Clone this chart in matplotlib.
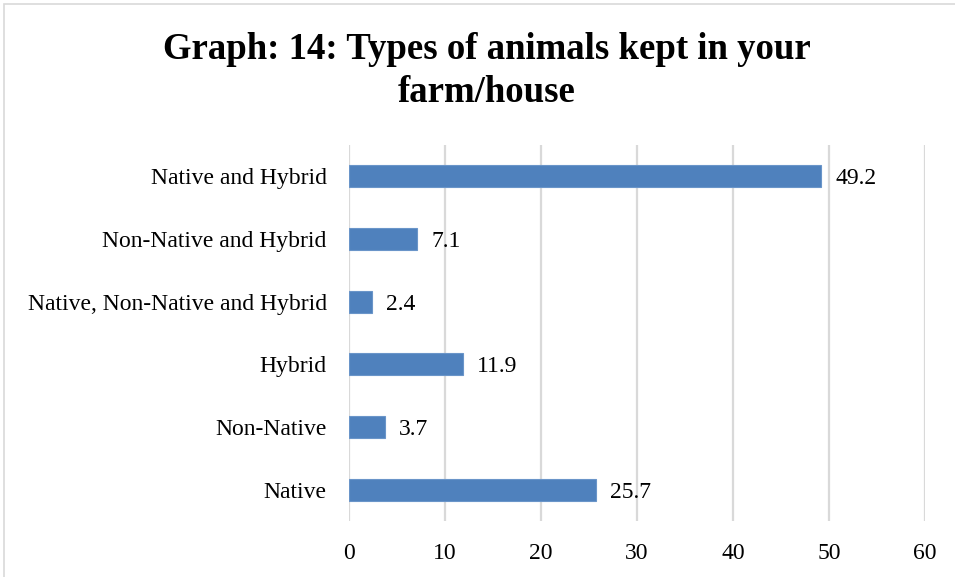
import matplotlib
matplotlib.use("Agg")
import matplotlib.pyplot as plt
from matplotlib.patches import Rectangle

categories = ["Native", "Non-Native", "Hybrid", "Native, Non-Native and Hybrid",
              "Non-Native and Hybrid", "Native and Hybrid"]
values = [25.7, 3.7, 11.9, 2.4, 7.1, 49.2]
x_ticks = [0, 10, 20, 30, 40, 50, 60]

plt.rcParams["font.family"] = ["Liberation Serif", "DejaVu Serif"]

W, H = 955, 577
fig = plt.figure(figsize=(W / 100, H / 100), dpi=100)
ax = fig.add_axes([349 / W, 1 - 521 / H, (925 - 349) / W, (521 - 145) / H])

# outer chart frame (light grey, runs off the right/bottom edge)
fig.patches.append(Rectangle((4 / W, -0.05), 1.1, 1 - 4 / H + 0.05,
                             transform=fig.transFigure, fill=False,
                             edgecolor="#D9D9D9", linewidth=1.2))

bars = ax.barh(range(len(categories)), values, height=0.35,
               color="#4F81BD", edgecolor="#6A95C9", linewidth=0.8, zorder=3)

for bar, v in zip(bars, values):
    ax.text(bar.get_width() + 1.45, bar.get_y() + bar.get_height() / 2,
            f"{v:.1f}", ha="left", va="center_baseline", fontsize=17, color="#000000")

ax.set_xlim(0, 60)
ax.set_ylim(-0.5, 5.5)
ax.set_xticks(x_ticks)
ax.set_xticklabels([str(t) for t in x_ticks], fontsize=17)
ax.set_yticks(range(len(categories)))
ax.set_yticklabels(categories, fontsize=17)
ax.tick_params(axis="x", length=0, pad=16)
ax.tick_params(axis="y", length=0, pad=16)
ax.grid(axis="x", color="#D9D9D9", linewidth=1.6, zorder=0)
ax.set_axisbelow(True)
for s in ax.spines.values():
    s.set_visible(False)

fig.text(487 / W, 1 - 71 / H, "Graph: 14: Types of animals kept in your\nfarm/house",
         ha="center", va="center", fontsize=26.5, fontweight="bold",
         linespacing=1.3)

fig.savefig("out.png", dpi=100)
